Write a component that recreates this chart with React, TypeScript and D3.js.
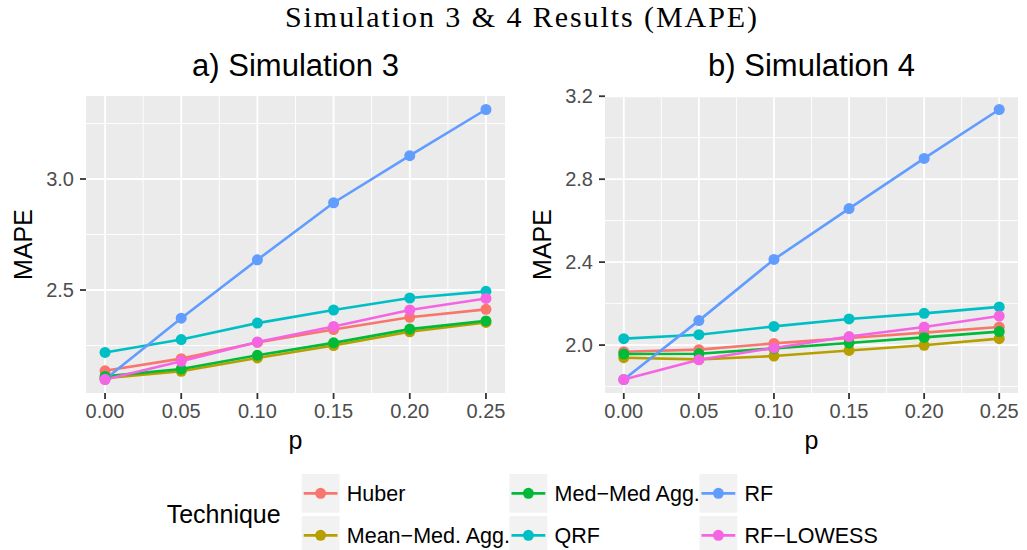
import React from "react";
import * as d3 from "d3";

const pValues = [0, 0.05, 0.1, 0.15, 0.2, 0.25];
const xTickLabels = ["0.00", "0.05", "0.10", "0.15", "0.20", "0.25"];
const techniques = ["Huber", "Mean\u2212Med. Agg.", "Med\u2212Med Agg.", "QRF", "RF", "RF\u2212LOWESS"];
const colors = ["#F8766D", "#B79F00", "#00BA38", "#00BFC4", "#619CFF", "#F564E3"];

// Simulation 3
const huber3 = [2.136, 2.191, 2.264, 2.322, 2.377, 2.413];
const meanMed3 = [2.103, 2.134, 2.194, 2.25, 2.312, 2.354];
const medMed3 = [2.111, 2.144, 2.206, 2.262, 2.324, 2.361];
const qrf3 = [2.219, 2.277, 2.351, 2.41, 2.464, 2.494];
const rf3 = [2.098, 2.373, 2.636, 2.893, 3.105, 3.313];
const rfLowess3 = [2.097, 2.179, 2.266, 2.336, 2.41, 2.462];

// Simulation 4
const huber4 = [1.968, 1.978, 2.008, 2.034, 2.06, 2.087];
const meanMed4 = [1.939, 1.931, 1.947, 1.974, 1.999, 2.031];
const medMed4 = [1.957, 1.958, 1.984, 2.01, 2.037, 2.065];
const qrf4 = [2.031, 2.05, 2.09, 2.126, 2.153, 2.184];
const rf4 = [1.834, 2.118, 2.413, 2.658, 2.9, 3.136];
const rfLowess4 = [1.834, 1.929, 1.986, 2.041, 2.087, 2.14];

const sim3 = [huber3, meanMed3, medMed3, qrf3, rf3, rfLowess3];
const sim4 = [huber4, meanMed4, medMed4, qrf4, rf4, rfLowess4];

const yMajor3 = [2.5, 3.0];
const yMinor3 = [2.25, 2.75, 3.25];
const yLabels3 = ["2.5", "3.0"];
const yMajor4 = [2.0, 2.4, 2.8, 3.2];
const yMinor4 = [1.8, 2.2, 2.6, 3.0];
const yLabels4 = ["2.0", "2.4", "2.8", "3.2"];
const xMinor = [0.025, 0.075, 0.125, 0.175, 0.225];

const SANS = "'Liberation Sans', Arial, Helvetica, sans-serif";

function Panel({ x0, x1, y0, y1, series, yMajor, yMinor, yLabels, subtitle }) {
  const all = series.flat();
  const [mn, mx] = d3.extent(all);
  const pad = (mx - mn) * 0.05;
  const y = d3.scaleLinear().domain([mn - pad, mx + pad]).range([y1, y0]);
  const xr = 0.25 * 0.05;
  const x = d3.scaleLinear().domain([-xr, 0.25 + xr]).range([x0, x1]);
  const line = d3.line().x((d, i) => x(pValues[i])).y((d) => y(d));
  const cx = (x0 + x1) / 2;
  const cy = (y0 + y1) / 2;
  return (
    <g>
      <text x={cx} y={76} textAnchor="middle" fontFamily={SANS} fontSize={31} fill="#000">{subtitle}</text>
      <rect x={x0} y={y0} width={x1 - x0} height={y1 - y0} fill="#EBEBEB" />
      {yMinor.map((v) => (
        <line key={"ym" + v} x1={x0} x2={x1} y1={y(v)} y2={y(v)} stroke="#fff" strokeWidth={0.9} />
      ))}
      {xMinor.map((v) => (
        <line key={"xm" + v} x1={x(v)} x2={x(v)} y1={y0} y2={y1} stroke="#fff" strokeWidth={0.9} />
      ))}
      {yMajor.map((v) => (
        <line key={"yM" + v} x1={x0} x2={x1} y1={y(v)} y2={y(v)} stroke="#fff" strokeWidth={1.8} />
      ))}
      {pValues.map((v) => (
        <line key={"xM" + v} x1={x(v)} x2={x(v)} y1={y0} y2={y1} stroke="#fff" strokeWidth={1.8} />
      ))}
      {series.map((s, i) => (
        <path key={"l" + i} d={line(s)} fill="none" stroke={colors[i]} strokeWidth={2.6} />
      ))}
      {series.map((s, i) =>
        s.map((v, j) => <circle key={"p" + i + "-" + j} cx={x(pValues[j])} cy={y(v)} r={5.5} fill={colors[i]} />)
      )}
      {yMajor.map((v, i) => (
        <g key={"yt" + v}>
          <line x1={x0 - 6} x2={x0} y1={y(v)} y2={y(v)} stroke="#333" strokeWidth={1.8} />
          <text x={x0 - 12} y={y(v)} dy="0.36em" textAnchor="end" fontFamily={SANS} fontSize={20} fill="#4D4D4D">{yLabels[i]}</text>
        </g>
      ))}
      {pValues.map((v, i) => (
        <g key={"xt" + v}>
          <line x1={x(v)} x2={x(v)} y1={y1} y2={y1 + 6} stroke="#333" strokeWidth={1.8} />
          <text x={x(v)} y={418} textAnchor="middle" fontFamily={SANS} fontSize={20} fill="#4D4D4D">{xTickLabels[i]}</text>
        </g>
      ))}
      <text x={cx} y={449} textAnchor="middle" fontFamily={SANS} fontSize={25} fill="#000">p</text>
      <text transform={`translate(${x0 - 54},${cy}) rotate(-90)`} textAnchor="middle" fontFamily={SANS} fontSize={25} fill="#000">MAPE</text>
    </g>
  );
}

function Legend() {
  const cols = [301.7, 509.5, 699.5];
  const rows = [474, 516];
  const kw = 37.8;
  const kh = 38.7;
  return (
    <g>
      <text x={166.7} y={523.3} fontFamily={SANS} fontSize={25} fill="#000">Technique</text>
      {techniques.map((t, i) => {
        const c = Math.floor(i / 2);
        const r = i % 2;
        const kx = cols[c];
        const ky = rows[r];
        return (
          <g key={t}>
            <rect x={kx} y={ky} width={kw} height={kh} fill="#F2F2F2" />
            <line x1={kx + 2} x2={kx + kw - 2} y1={ky + kh / 2} y2={ky + kh / 2} stroke={colors[i]} strokeWidth={2.6} />
            <circle cx={kx + kw / 2} cy={ky + kh / 2} r={5.5} fill={colors[i]} />
            <text x={kx + kw + 7.3} y={ky + kh / 2} dy="0.36em" fontFamily={SANS} fontSize={21.5} fill="#000">{t}</text>
          </g>
        );
      })}
    </g>
  );
}

export default function App() {
  return (
    <svg width={1027} height={550} style={{ position: "absolute", left: 0, top: 0, background: "#fff" }}>
      <rect x={0} y={0} width={1027} height={550} fill="#fff" />
      <text x={521} y={27} textAnchor="middle" fontFamily="'Liberation Serif', 'Times New Roman', serif" fontSize={30} textLength={472} lengthAdjust="spacing" fill="#000">Simulation 3 &amp; 4 Results (MAPE)</text>
      <Panel x0={86} x1={505} y0={96} y1={393} series={sim3} yMajor={yMajor3} yMinor={yMinor3} yLabels={yLabels3} subtitle="a) Simulation 3" />
      <Panel x0={605} x1={1018} y0={96} y1={393} series={sim4} yMajor={yMajor4} yMinor={yMinor4} yLabels={yLabels4} subtitle="b) Simulation 4" />
      <Legend />
    </svg>
  );
}
